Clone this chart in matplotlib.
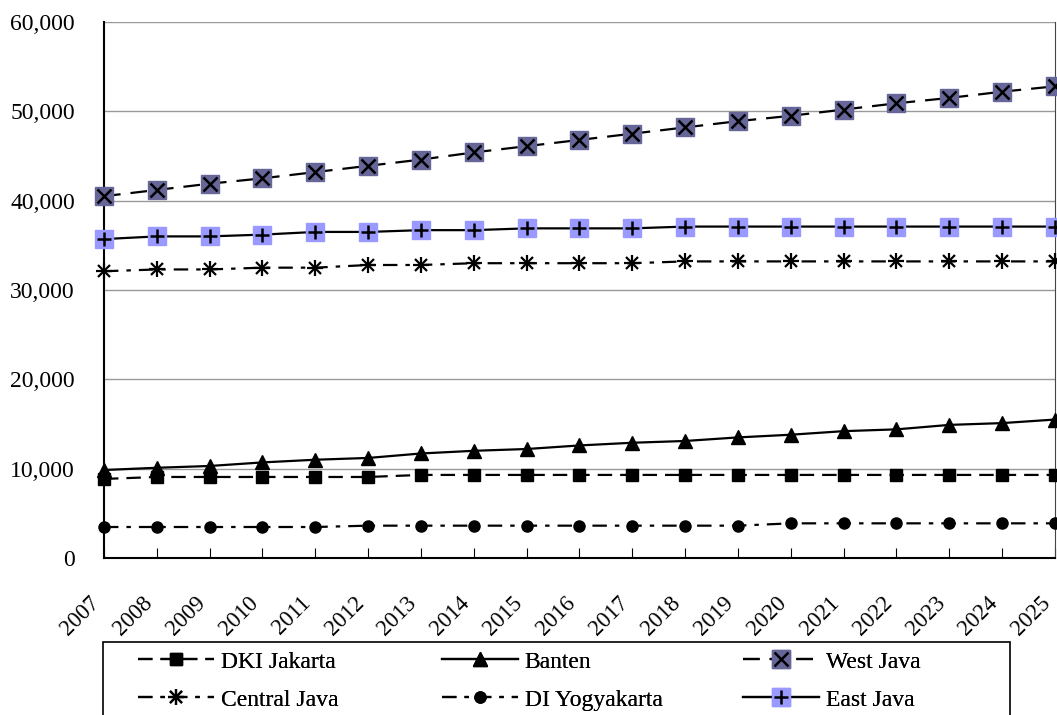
import numpy as np
import matplotlib.pyplot as plt
import matplotlib.transforms as mtransforms
from matplotlib.patches import Rectangle

plt.rcParams['font.family'] = ['Liberation Serif', 'DejaVu Serif']

years = list(range(2007, 2026))

dki_jakarta = [8850, 9070, 9070, 9070, 9070, 9070, 9300, 9300, 9300, 9300,
               9300, 9300, 9300, 9300, 9300, 9300, 9300, 9300, 9300]
banten = [9850, 10100, 10300, 10700, 11000, 11200, 11700, 12000, 12200, 12600,
          12900, 13100, 13500, 13800, 14200, 14400, 14900, 15100, 15500]
west_java = [40500, 41200, 41900, 42500, 43200, 43900, 44600, 45400, 46100, 46800,
             47500, 48200, 48900, 49500, 50200, 50900, 51500, 52200, 52800]
central_java = [32100, 32300, 32300, 32500, 32500, 32800, 32800, 33000, 33000, 33000,
                33000, 33200, 33200, 33200, 33200, 33200, 33200, 33200, 33200]
di_yogyakarta = [3470, 3470, 3470, 3470, 3470, 3620, 3620, 3620, 3620, 3620,
                 3620, 3620, 3620, 3880, 3880, 3880, 3880, 3880, 3880]
east_java = [35700, 36000, 36000, 36200, 36500, 36500, 36700, 36700, 36900, 36900,
             36900, 37100, 37100, 37100, 37100, 37100, 37100, 37100, 37100]

fig = plt.figure(figsize=(10.57, 7.15), dpi=100)
ax = fig.add_axes([104/1057, 1-558/715, 951/1057, 536/715])

lw = 1.6
dash = (0, (6.5, 3.6))
dashdot = (0, (6.5, 3.6, 2, 3.6))

h_dki, = ax.plot(years, dki_jakarta, color='black', lw=lw, ls=dash,
                 marker='s', ms=8.5, clip_on=False, zorder=3)
h_ban, = ax.plot(years, banten, color='black', lw=lw, ls='-',
                 marker='^', ms=10, clip_on=False, zorder=3)
h_wj, = ax.plot(years, west_java, color='black', lw=lw, ls=(0, (7.5, 4.5)),
                marker='s', ms=12.5, mfc='#666699', mec='#666699', clip_on=False, zorder=3)
h_wj2, = ax.plot(years, west_java, ls='none', marker='x', ms=9.5, mew=1.8,
                 color='black', clip_on=False, zorder=4)
h_cj, = ax.plot(years, central_java, color='black', lw=lw, ls=dashdot,
                clip_on=False, zorder=3)
h_cj2, = ax.plot(years, central_java, ls='none', marker='+', ms=12, mew=1.6,
                 color='black', clip_on=False, zorder=4)
h_cj3, = ax.plot(years, central_java, ls='none', marker='x', ms=9, mew=1.6,
                 color='black', clip_on=False, zorder=4)
h_dy, = ax.plot(years, di_yogyakarta, color='black', lw=lw, ls=dashdot,
                marker='o', ms=8, clip_on=False, zorder=3)
h_ej, = ax.plot(years, east_java, color='black', lw=lw, ls='-',
                marker='s', ms=12.5, mfc='#9999FF', mec='#9999FF', clip_on=False, zorder=3)
h_ej2, = ax.plot(years, east_java, ls='none', marker='+', ms=10, mew=1.8,
                 color='black', clip_on=False, zorder=4)

ax.set_xlim(2007, 2025)
ax.set_ylim(0, 60000)
ax.set_yticks(np.arange(0, 60001, 10000))
ax.set_yticklabels([f'{v:,}' for v in range(0, 60001, 10000)])
ax.set_xticks(years)
ax.set_xticklabels([str(y) for y in years], rotation=45, ha='right', va='top')
shift = mtransforms.ScaledTranslation(-9/100, 0, fig.dpi_scale_trans)
for lab in ax.get_xticklabels():
    lab.set_transform(lab.get_transform() + shift)
ax.yaxis.grid(True, color='#999999', lw=1)
ax.set_axisbelow(True)
ax.tick_params(axis='x', direction='in', length=7, labelsize=16.5, pad=25)
ax.tick_params(axis='y', direction='in', length=0, labelsize=17, pad=21)
for s in ['left', 'bottom']:
    ax.spines[s].set_color('black')
    ax.spines[s].set_linewidth(1.5)
ax.spines['top'].set_visible(False)
ax.spines['right'].set_color('#444444')

# legend box under the chart, three fixed columns like the original
fig.patches.append(Rectangle((103/1057, -0.01), 907/1057, 0.01 + 1 - 642/715,
                             transform=fig.transFigure, fill=False,
                             edgecolor='black', lw=1.2))
columns = [
    ([h_dki, (h_cj, h_cj2, h_cj3)], ['DKI Jakarta', 'Central Java'], 138),
    ([h_ban, h_dy], ['Banten', 'DI Yogyakarta'], 442),
    ([(h_wj, h_wj2), (h_ej, h_ej2)], ['West Java', 'East Java'], 743),
]
for hs, ls_, x0 in columns:
    leg = fig.legend(hs, ls_, loc='upper left',
                     bbox_to_anchor=(x0/1057, 1 - 651/715),
                     fontsize=17, frameon=False, borderpad=0, borderaxespad=0,
                     handlelength=3.2, handletextpad=0.3, labelspacing=0.7)
    fig.add_artist(leg)

fig.savefig('out.png', dpi=100)
